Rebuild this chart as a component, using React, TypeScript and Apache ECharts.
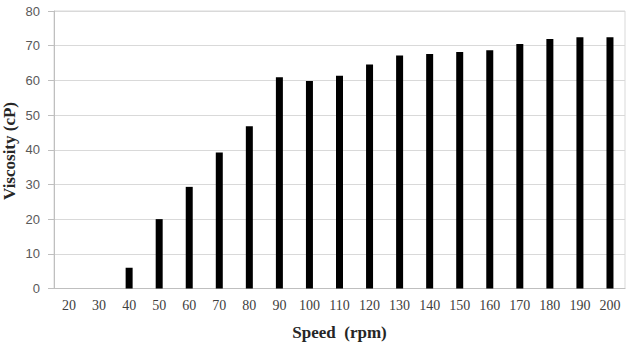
import React, { useEffect, useRef } from "react";
import * as echarts from "echarts";

const speeds = ["20", "30", "40", "50", "60", "70", "80", "90", "100", "110", "120", "130", "140", "150", "160", "170", "180", "190", "200"];
const viscosity = [0, 0, 6.0, 20.0, 29.3, 39.2, 46.8, 60.9, 59.8, 61.3, 64.6, 67.2, 67.6, 68.2, 68.7, 70.5, 71.9, 72.4, 72.4];
const xTitle = "Speed  (rpm)";
const yTitle = "Viscosity (cP)";

export default function App() {
  const ref = useRef<HTMLDivElement>(null);
  useEffect(() => {
    if (!ref.current) return;
    const chart = echarts.init(ref.current, null, { renderer: "svg" });
    chart.setOption({
      animation: false,
      backgroundColor: "#ffffff",
      grid: {
        left: 54,
        right: 6,
        top: 11,
        bottom: 60.5,
        show: true,
        borderColor: "#d9d9d9",
        borderWidth: 1,
        backgroundColor: "transparent",
      },
      xAxis: {
        type: "category",
        data: speeds,
        axisTick: { show: false },
        axisLine: { show: true, lineStyle: { color: "#bfbfbf", width: 1 } },
        axisLabel: {
          color: "#404040",
          fontFamily: "Liberation Serif",
          fontSize: 14,
          margin: 10,
          interval: 0,
        },
        name: xTitle,
        nameLocation: "middle",
        nameGap: 35,
        nameTextStyle: {
          fontFamily: "Liberation Serif",
          fontWeight: "bold",
          fontSize: 17,
          color: "#262626",
        },
      },
      yAxis: {
        type: "value",
        min: 0,
        max: 80,
        interval: 10,
        axisLine: { show: true, lineStyle: { color: "#bfbfbf", width: 1 } },
        axisTick: { show: true, length: 6, lineStyle: { color: "#bfbfbf" } },
        splitLine: { show: true, lineStyle: { color: "#d9d9d9", width: 1 } },
        axisLabel: {
          color: "#595959",
          fontFamily: "Liberation Sans",
          fontSize: 13,
          margin: 14,
        },
      },
      graphic: [
        {
          type: "text",
          x: 9,
          y: 151,
          rotation: Math.PI / 2,
          style: {
            text: yTitle,
            fontFamily: "Liberation Serif",
            fontWeight: "bold",
            fontSize: 17,
            fill: "#262626",
            align: "center",
            verticalAlign: "middle",
          },
        },
      ],
      series: [
        {
          type: "bar",
          data: viscosity,
          barWidth: 7,
          itemStyle: { color: "#000000" },
        },
      ],
    });
    return () => chart.dispose();
  }, []);
  return <div ref={ref} style={{ width: 631, height: 349, position: "absolute", left: 0, top: 0 }} />;
}
